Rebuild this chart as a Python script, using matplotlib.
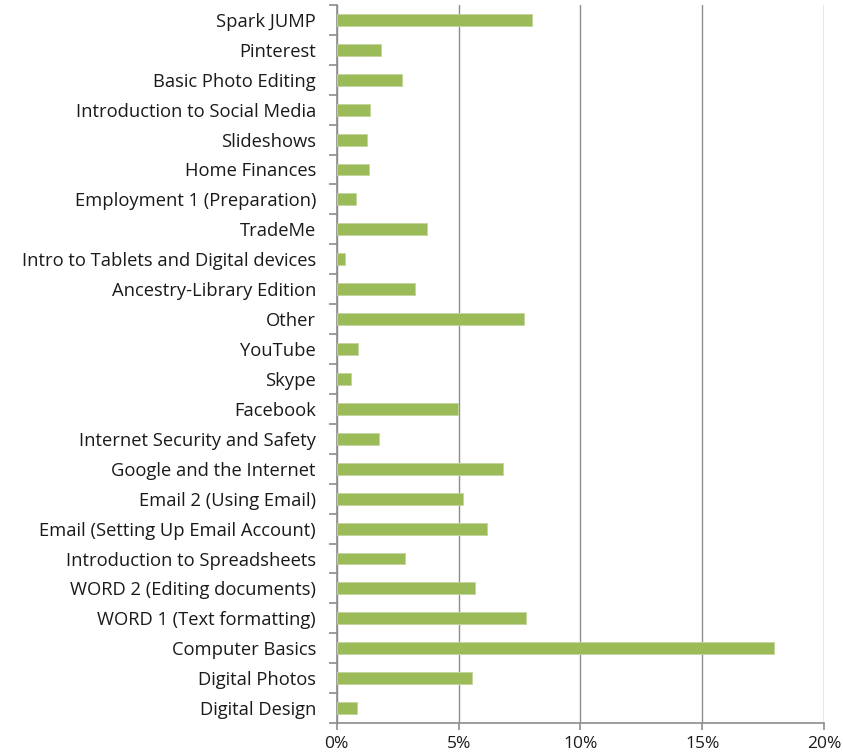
import numpy as np
import matplotlib
matplotlib.use("Agg")
import matplotlib.pyplot as plt
from matplotlib.ticker import FixedLocator, PercentFormatter

plt.rcParams['font.family'] = ['Open Sans', 'DejaVu Sans']

# categories listed top to bottom, as in the picture
courses = ['Spark JUMP', 'Pinterest', 'Basic Photo Editing', 'Introduction to Social Media',
           'Slideshows', 'Home Finances', 'Employment 1 (Preparation)', 'TradeMe',
           'Intro to Tablets and Digital devices', 'Ancestry-Library Edition', 'Other',
           'YouTube', 'Skype', 'Facebook', 'Internet Security and Safety',
           'Google and the Internet', 'Email 2 (Using Email)', 'Email (Setting Up Email Account)',
           'Introduction to Spreadsheets', 'WORD 2 (Editing documents)', 'WORD 1 (Text formatting)',
           'Computer Basics', 'Digital Photos', 'Digital Design']
share = [8.0, 1.82, 2.66, 1.35, 1.26, 1.31, 0.78, 3.69,
         0.35, 3.22, 7.70, 0.89, 0.57, 4.98, 1.72,
         6.82, 5.19, 6.15, 2.81, 5.67, 7.76,
         17.93, 5.53, 0.82]
xticks = [0, 5, 10, 15, 20]

fig = plt.figure(figsize=(8.43, 7.54), dpi=100)
ax = fig.add_axes([0.3995, 0.041, 0.578, 0.9525])

n = len(courses)
ypos = np.arange(n)[::-1]
ax.barh(ypos, share, height=0.4, color='#9BBB59', edgecolor='#C3D69B', linewidth=0.6, zorder=3)

ax.set_xlim(0, 20)
ax.set_ylim(-0.5, n - 0.5)
ax.set_xticks(xticks)
ax.xaxis.set_major_formatter(PercentFormatter(decimals=0))
ax.grid(axis='x', color='#8C8C8C', linewidth=1.0, zorder=0)

ax.set_yticks(ypos)
ax.set_yticklabels(courses)
ax.yaxis.set_minor_locator(FixedLocator(np.arange(-0.5, n, 1)))
ax.tick_params(axis='y', which='major', length=0, pad=15, labelsize=13.2, labelcolor='#1a1a1a')
ax.tick_params(axis='y', which='minor', length=6, width=1.2, color='#8C8C8C')
ax.tick_params(axis='x', which='major', length=5, width=1.2, color='#8C8C8C',
               labelsize=12.5, pad=4.5, labelcolor='#1a1a1a')

for s in ['top', 'right']:
    ax.spines[s].set_visible(False)
for s in ['left', 'bottom']:
    ax.spines[s].set_color('#8C8C8C')
    ax.spines[s].set_linewidth(1.2)

fig.savefig('out.png', dpi=100)
